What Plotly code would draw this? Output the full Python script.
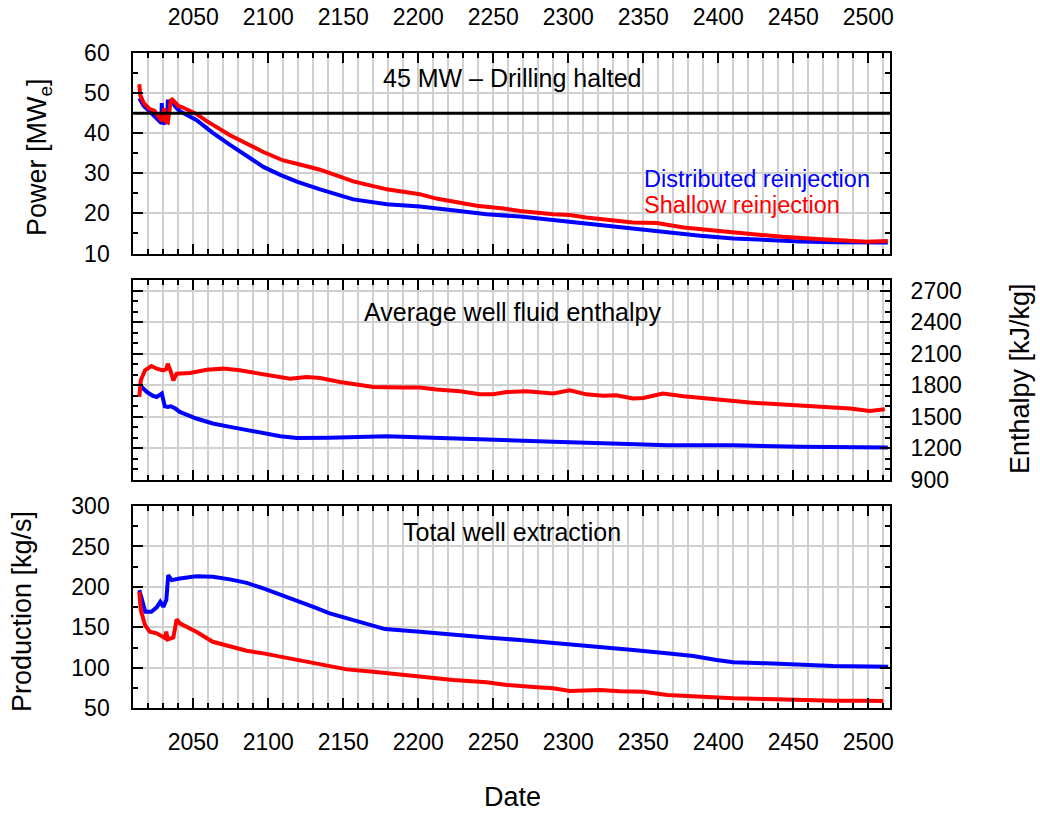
import plotly.graph_objects as go

# ---- Power output [MWe] ----
power_dist_year = [2014, 2017, 2021, 2025.5, 2028.7, 2029, 2029.4, 2030.5, 2032.5, 2033, 2035.5, 2039,
                   2041, 2052, 2063, 2074.5, 2085.6, 2096.7, 2108, 2119, 2134.5, 2156.7, 2179,
                   2201, 2223, 2245.6, 2268, 2290, 2312, 2334.5, 2343, 2366, 2388, 2410, 2432,
                   2454.5, 2477, 2499, 2513]
power_dist = [48.7, 46.8, 45.4, 43.7, 42.5, 47.5, 42.6, 42.5, 42.8, 47.9, 47.9, 46.2,
              45.5, 43.3, 40.1, 37.1, 34.2, 31.6, 29.6, 27.9, 26.0, 23.5, 22.3,
              21.7, 20.8, 19.8, 19.2, 18.3, 17.6, 16.6, 16.25, 15.25, 14.4, 13.75, 13.3,
              13.0, 12.8, 12.75, 12.75]

power_shallow_year = [2014, 2014.6, 2017, 2021, 2024, 2029, 2030.5, 2031.5, 2033, 2035, 2036,
                      2040, 2043, 2052, 2059, 2074.5, 2096.7, 2110, 2123, 2134.5, 2156.7,
                      2179, 2190, 2201, 2212, 2223, 2239, 2256.7, 2268, 2290, 2301, 2312,
                      2334.5, 2343, 2359, 2377, 2399, 2421, 2443, 2466, 2488, 2499, 2513]
power_shallow = [52.2, 49.5, 47.5, 46.0, 45.6, 43.0, 46.2, 43.0, 42.7, 48.2, 48.4,
                 46.8, 46.4, 44.8, 43.0, 39.5, 35.3, 33.2, 32.0, 30.9, 28.0,
                 26.0, 25.4, 24.8, 23.7, 23.0, 21.9, 21.2, 20.6, 19.8, 19.6, 19.0,
                 18.2, 17.75, 17.6, 16.5, 15.65, 14.8, 14.15, 13.6, 13.15, 12.9, 13.1]

# ---- Average well fluid enthalpy [kJ/kg] ----
enth_dist_year = [2014.5, 2016, 2019, 2023, 2025.6, 2028, 2029, 2030, 2031, 2033, 2035, 2038,
                  2041, 2052, 2063, 2074.5, 2085.6, 2096.7, 2108, 2119, 2141, 2179, 2201,
                  2245.6, 2290, 2334.5, 2366, 2410, 2454.5, 2513]
enth_dist = [1784, 1778, 1736, 1700, 1689, 1705, 1721, 1660, 1600, 1594, 1600, 1579,
             1547, 1484, 1437, 1405, 1373, 1342, 1316, 1300, 1302, 1316, 1304,
             1285, 1263, 1245, 1231, 1231, 1215, 1209]

enth_shallow_year = [2014, 2015, 2017.8, 2022, 2025.6, 2030, 2032, 2033, 2035, 2036.7, 2038.9,
                     2047.8, 2059, 2070, 2081, 2092, 2103, 2114.5, 2125.6, 2134.5, 2147.8,
                     2170, 2190, 2201, 2212, 2227.8, 2241, 2250, 2259, 2272, 2290, 2301,
                     2312, 2323, 2332, 2343, 2350, 2363, 2377, 2399, 2421, 2443, 2465.6,
                     2488, 2501, 2507, 2511]
enth_shallow = [1690, 1847, 1942, 1983, 1958, 1942, 1955, 2005, 1930, 1847, 1910,
                1916, 1948, 1958, 1942, 1916, 1885, 1863, 1878, 1869, 1831,
                1784, 1778, 1778, 1759, 1743, 1714, 1714, 1736, 1743, 1721, 1752,
                1714, 1700, 1705, 1674, 1680, 1721, 1695, 1664, 1636, 1617, 1601,
                1579, 1556, 1563, 1572]

# ---- Total well extraction [kg/s] ----
prod_dist_year = [2014, 2016, 2018, 2022, 2025.6, 2028, 2030, 2032, 2033.3, 2035.6, 2041, 2052,
                  2063, 2074.5, 2085.6, 2096.7, 2108, 2119, 2130, 2141, 2152.3, 2163.3,
                  2177.8, 2201, 2223.3, 2245.6, 2267.8, 2290, 2312.2, 2334.5, 2343.3,
                  2365.6, 2383.3, 2398.9, 2410, 2432.2, 2454.5, 2476.7, 2513.3]
prod_dist = [196, 181.6, 169.3, 169.3, 174.7, 181.6, 175.4, 183.7, 214.6, 208.4, 210.5, 213.3,
             212.5, 209.3, 205, 198.1, 190.7, 183.7, 175.4, 167.3, 161.1, 155.7,
             147.9, 144.6, 140.5, 137.6, 134.3, 131, 127.8, 124, 122,
             117.9, 114.6, 109.6, 106.8, 105.6, 103.5, 102.2, 101.4]

prod_shallow_year = [2014, 2015, 2017.8, 2021, 2025.6, 2030, 2031, 2032, 2033, 2036.7, 2038.9,
                     2041, 2052, 2063, 2074.5, 2085.6, 2096.7, 2108, 2119, 2130, 2141,
                     2152.3, 2170, 2201, 2223.3, 2245.6, 2259, 2279, 2290, 2301, 2321,
                     2334.5, 2350, 2366, 2388, 2410, 2432, 2454.5, 2477, 2499, 2510]
prod_shallow = [194, 171.4, 152.8, 144.6, 142.6, 137.6, 137, 144.6, 135.2, 137.6, 159.9,
                155, 144.6, 132.2, 126, 121.1, 117.9, 113.7, 110.5, 105.6, 102.2,
                98.1, 95.2, 89, 84.9, 82.1, 78.8, 75.9, 74.7, 71.4, 72.5,
                71, 70.5, 66.4, 64.3, 62.3, 61.5, 60.2, 59.4, 59.4, 59.0]

BLUE = "#0000ff"
RED = "#ff0000"
GRID = "#d0d0d0"
FONT = "Liberation Sans, Arial, sans-serif"
W, H = 1040, 814

# pixel layout of the three panels
x_left, x_right = 133.3, 890
panels = {"top": (53, 253.5), "mid": (280, 480), "bot": (506, 708.3)}


def ydom(top, bottom):
    return [1 - bottom / H, 1 - top / H]


xdom = [x_left / W, x_right / W]

fig = go.Figure()

# bottom panel: x / y ; middle panel: x2 / y2 ; top panel: x3 / y3
fig.add_trace(go.Scatter(x=power_dist_year, y=power_dist, mode="lines",
                         line=dict(color=BLUE, width=4), xaxis="x3", yaxis="y3"))
fig.add_trace(go.Scatter(x=power_shallow_year, y=power_shallow, mode="lines",
                         line=dict(color=RED, width=4), xaxis="x3", yaxis="y3"))
fig.add_trace(go.Scatter(x=enth_dist_year, y=enth_dist, mode="lines",
                         line=dict(color=BLUE, width=4), xaxis="x2", yaxis="y2"))
fig.add_trace(go.Scatter(x=enth_shallow_year, y=enth_shallow, mode="lines",
                         line=dict(color=RED, width=4), xaxis="x2", yaxis="y2"))
fig.add_trace(go.Scatter(x=prod_dist_year, y=prod_dist, mode="lines",
                         line=dict(color=BLUE, width=4), xaxis="x", yaxis="y"))
fig.add_trace(go.Scatter(x=prod_shallow_year, y=prod_shallow, mode="lines",
                         line=dict(color=RED, width=4), xaxis="x", yaxis="y"))

tickfont = dict(family=FONT, size=23, color="#000000")


def xaxis_cfg(anchor, labels, side="bottom", standoff=12):
    return dict(
        domain=xdom, anchor=anchor, range=[2010, 2514.5], side=side, automargin=False,
        tick0=2000, dtick=50, ticks="inside", ticklen=10, tickwidth=1.5, tickcolor="black",
        showticklabels=labels, tickfont=tickfont, ticklabelstandoff=standoff,
        showgrid=True, gridcolor=GRID, gridwidth=1.5,
        minor=dict(tick0=2010, dtick=10, ticks="inside", ticklen=5, tickwidth=1.5,
                   tickcolor="black", showgrid=True, gridcolor=GRID, gridwidth=1.5),
        showline=True, linecolor="black", linewidth=2, mirror="ticks", zeroline=False,
    )


def yaxis_cfg(anchor, dom, rng, dtick, minor_dtick, tick0, side="left", standoff=17):
    return dict(
        domain=dom, anchor=anchor, range=rng, side=side, automargin=False,
        tick0=tick0, dtick=dtick, ticks="inside", ticklen=10, tickwidth=1.5, tickcolor="black",
        showticklabels=True, tickfont=tickfont, ticklabelstandoff=standoff,
        showgrid=True, gridcolor=GRID, gridwidth=1.5,
        minor=dict(tick0=tick0, dtick=minor_dtick, ticks="inside", ticklen=5, tickwidth=1.5,
                   tickcolor="black", showgrid=False),
        showline=True, linecolor="black", linewidth=2, mirror="ticks", zeroline=False,
    )


fig.update_layout(
    width=W, height=H,
    margin=dict(l=0, r=0, t=0, b=0, autoexpand=False),
    paper_bgcolor="white", plot_bgcolor="white",
    showlegend=False,
    font=dict(family=FONT, color="black"),
    xaxis=xaxis_cfg("y", True, "bottom", standoff=12),
    xaxis2=xaxis_cfg("y2", False, "bottom"),
    xaxis3=xaxis_cfg("y3", True, "top", standoff=17),
    yaxis=yaxis_cfg("x", ydom(*panels["bot"]), [50, 300], 50, 25, 0),
    yaxis2=yaxis_cfg("x2", ydom(*panels["mid"]), [900, 2800], 300, 100, 900,
                     side="right", standoff=14),
    yaxis3=yaxis_cfg("x3", ydom(*panels["top"]), [10, 60], 10, 5, 0),
)

# 45 MW target line
fig.add_shape(type="line", xref="x3 domain", yref="y3", x0=0, x1=1, y0=45, y1=45,
              line=dict(color="black", width=3))

text_font = dict(family=FONT, size=25, color="black")
legend_font = dict(family=FONT, size=23.5, color="black")
title_font = dict(family=FONT, size=27, color="black")


def ann(x, y, text, font, angle=0, xanchor="center", color=None):
    f = dict(font)
    if color:
        f["color"] = color
    fig.add_annotation(x=x / W, y=1 - y / H, xref="paper", yref="paper", text=text,
                       showarrow=False, font=f, textangle=angle, xanchor=xanchor,
                       yanchor="middle", borderpad=0)


ann(512, 78, "45 MW \u2013 Drilling halted", text_font)
ann(512, 312, "Average well fluid enthalpy", text_font)
ann(512, 532, "Total well extraction", text_font)
ann(643, 179.5, "Distributed reinjection", legend_font, xanchor="left", color=BLUE)
ann(643, 205, "Shallow reinjection", legend_font, xanchor="left", color=RED)
ann(39, 157, "Power [MW<sub>e</sub>]", title_font, angle=-90)
ann(22, 612, "Production [kg/s]", title_font, angle=-90)
ann(1020, 379, "Enthalpy [kJ/kg]", title_font, angle=-90)
ann(512, 797, "Date", title_font)

fig.write_html("out.html")
